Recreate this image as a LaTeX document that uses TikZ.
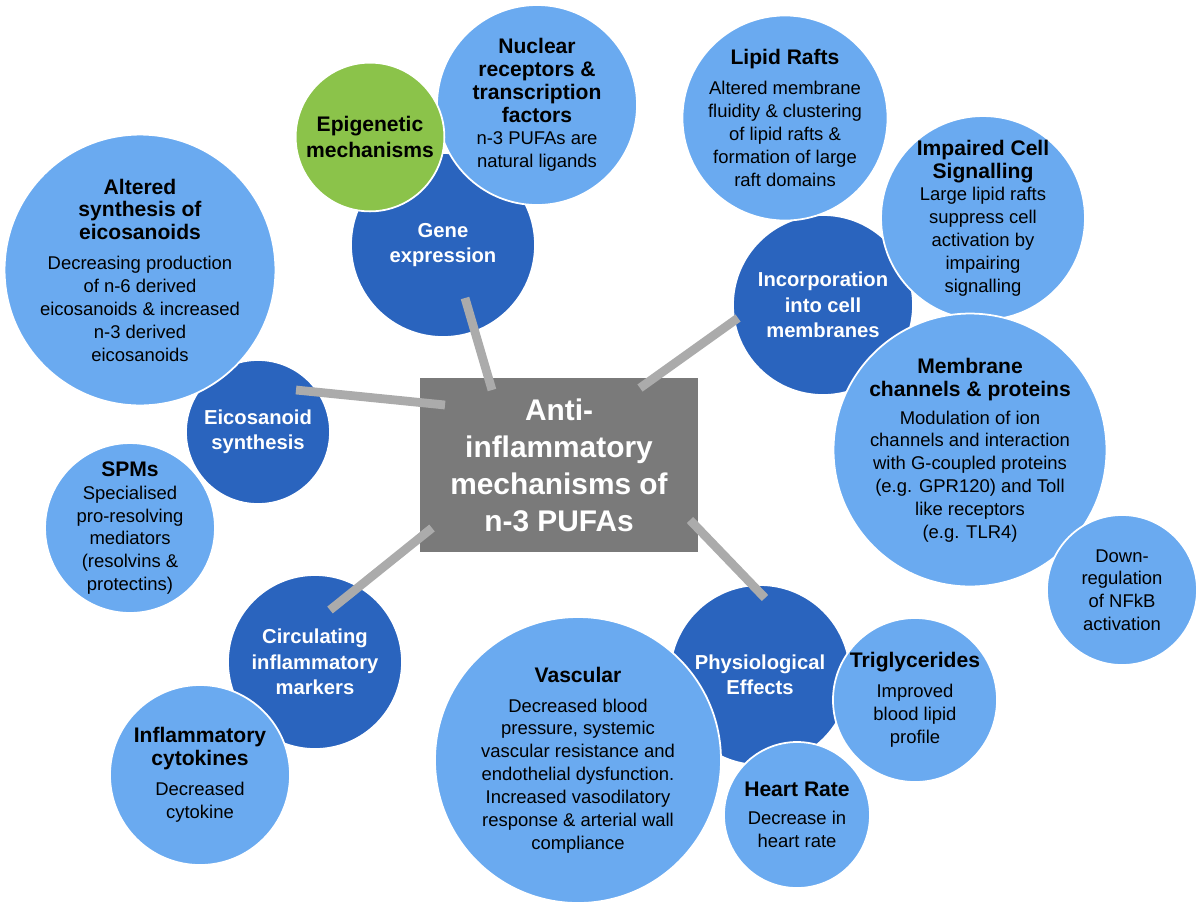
\documentclass[tikz,border=0pt]{standalone}
\usepackage{fontspec}
\setmainfont{Liberation Sans}
\newcommand{\tb}{\bfseries\fontsize{12}{14.5}\selectfont}
\newcommand{\tn}{\mdseries\fontsize{10.5}{13}\selectfont}
\begin{document}
\begin{tikzpicture}[x=0.02cm,y=-0.02cm,
  d/.style={minimum size=#1*0.02cm},
  light/.style={circle,fill=lb,draw=white,line width=1pt,align=center,text=black,inner sep=0pt,font=\fontsize{10.5}{13}\selectfont},
  dark/.style={circle,fill=db,draw=white,line width=1pt,align=center,text=white,inner sep=0pt,font=\bfseries\fontsize{11.5}{14.5}\selectfont},
  conn/.style={line width=5pt,draw=lg}]
\definecolor{lb}{HTML}{6AAAF0}
\definecolor{db}{HTML}{2A64BE}
\definecolor{gr}{HTML}{8BC34A}
\definecolor{lg}{HTML}{ABABAB}
\definecolor{cg}{HTML}{7A7A7A}
\useasboundingbox (0,0) rectangle (1200,921);
% dark circles
\node[dark,d=184] (gene) at (443,245) {Gene\\expression};
\node[dark,d=180] (inc) at (823,305) {Incorporation\\into cell\\membranes};
\node[dark,d=144] (eic) at (258,432) {Eicosanoid\\synthesis};
\node[dark,d=174] (circ) at (315,662) {Circulating\\inflammatory\\markers};
\node[dark,d=180] (phys) at (760,675) {Physiological\\Effects};
% light circles
\node[light,d=200] (nuc) at (537,105) {\tb Nuclear\\\tb receptors \&\\\tb transcription\\\tb factors\\\tn n-3 PUFAs are\\\tn natural ligands};
\node[circle,fill=gr,draw=white,line width=1pt,d=144,align=center,font=\bfseries\fontsize{12}{14.5}\selectfont] (epi) at (370,137) {Epigenetic\\mechanisms};
\node[light,d=190] (raft) at (785,118) {\tb Lipid Rafts\\[4pt]\tn Altered membrane\\\tn fluidity \& clustering\\\tn of lipid rafts \&\\\tn formation of large\\\tn raft domains};
\node[light,d=200] (imp) at (983,218) {\tb Impaired Cell\\\tb Signalling\\\tn Large lipid rafts\\\tn suppress cell\\\tn activation by\\\tn impairing\\\tn signalling};
\node[light,d=262] (mem) at (970,450) {\tb Membrane\\\tb channels \& proteins\\[3pt]\tn Modulation of ion\\\tn channels and interaction\\\tn with G-coupled proteins\\\tn (e.g. GPR120) and Toll\\\tn like receptors\\\tn (e.g. TLR4)};
\node[light,d=150] (down) at (1122,590) {Down-\\regulation\\of NFkB\\activation};
\node[light,d=266] (alt) at (140,270) {\tb Altered\\\tb synthesis of\\\tb eicosanoids\\[4pt]\tn Decreasing production\\\tn of n-6 derived\\\tn eicosanoids \& increased\\\tn n-3 derived\\\tn eicosanoids};
\node[light,d=166] (spm) at (130,528) {\tb SPMs\\\tn Specialised\\\tn pro-resolving\\\tn mediators\\\tn (resolvins \&\\\tn protectins)};
\node[light,d=180] (cyto) at (200,775) {\tb Inflammatory\\\tb cytokines\\[4pt]\tn Decreased\\\tn cytokine};
\node[light,d=286] (vasc) at (578,760) {\tb Vascular\\[4pt]\tn Decreased blood\\\tn pressure, systemic\\\tn vascular resistance and\\\tn endothelial dysfunction.\\\tn Increased vasodilatory\\\tn response \& arterial wall\\\tn compliance};
\node[light,d=164] (tri) at (915,700) {\tb Triglycerides\\[4pt]\tn Improved\\\tn blood lipid\\\tn profile};
\node[light,d=146] (hr) at (797,815) {\tb Heart Rate\\[3pt]\tn Decrease in\\\tn heart rate};
% centre
\node[fill=cg,minimum width=278*0.02cm,minimum height=174*0.02cm,align=center,text=white,font=\bfseries\fontsize{17}{21}\selectfont] (c) at (559,465) {Anti-\\inflammatory\\mechanisms of\\n-3 PUFAs};
\coordinate (g1) at (465,298); \coordinate (g2) at (492,390);
\coordinate (i1) at (738,318); \coordinate (i2) at (640,388);
\coordinate (e1) at (296,390); \coordinate (e2) at (445,405);
\coordinate (c1) at (330,610); \coordinate (c2) at (432,528);
\coordinate (p1) at (765,598); \coordinate (p2) at (690,520);
\draw[conn] (g1) -- (g2);
\draw[conn] (i1) -- (i2);
\draw[conn] (e1) -- (e2);
\draw[conn] (c1) -- (c2);
\draw[conn] (p1) -- (p2);
\end{tikzpicture}
\end{document}
